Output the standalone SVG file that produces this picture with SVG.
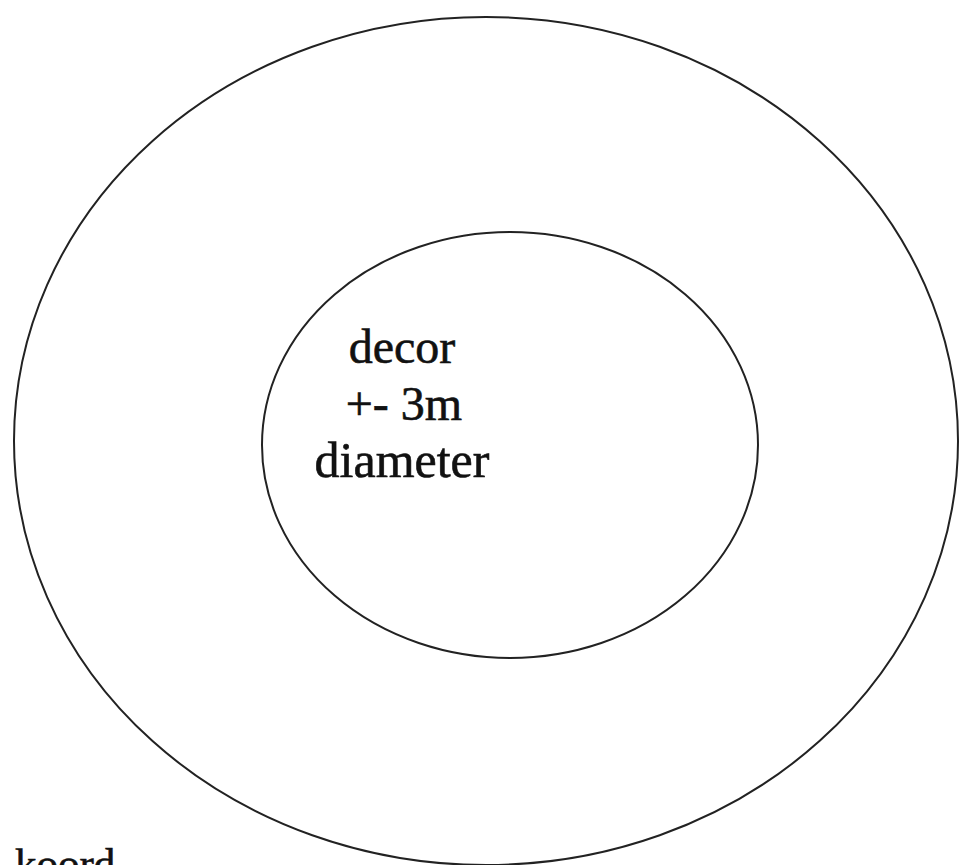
<svg xmlns="http://www.w3.org/2000/svg" width="960" height="865" viewBox="0 0 960 865">
<style>
.ring{fill:none;stroke:#222;stroke-width:2}
.lbl{font-family:"Liberation Serif","Times New Roman",serif;fill:#111;stroke:#111;stroke-width:0.6}
</style>
<rect width="960" height="865" fill="#fff"/>
<g id="outer">
<ellipse class="ring" cx="486" cy="441" rx="472" ry="424"/>
</g>
<g id="inner">
<ellipse class="ring" cx="510" cy="445" rx="248" ry="213"/>
<text class="lbl" font-size="48" text-anchor="middle" x="402" y="363">decor</text>
<text class="lbl" font-size="48" text-anchor="middle" x="404" y="420">+- 3m</text>
<text class="lbl" font-size="50" text-anchor="middle" x="402" y="477">diameter</text>
</g>
<g id="koord">
<text class="lbl" font-size="43" x="15" y="878">koord</text>
</g>
</svg>
